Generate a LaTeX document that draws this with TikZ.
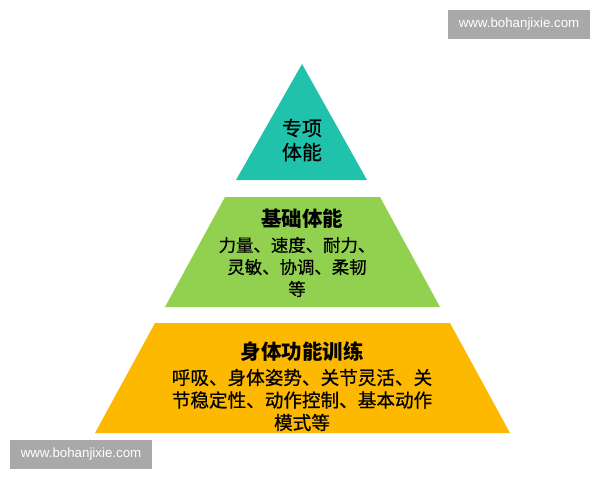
\documentclass[tikz,border=0pt]{standalone}
\usepackage{fontspec}
\setmainfont{Liberation Sans}
\newfontfamily\cjk[FakeBold=0.6]{Noto Sans CJK SC}
\newfontfamily\cjkb{Noto Sans CJK SC}
\definecolor{teal1}{HTML}{20C2AB}
\definecolor{green1}{HTML}{92D050}
\definecolor{yellow1}{HTML}{FCB900}
\definecolor{wm}{HTML}{A9A9A9}
\tikzset{
  lbl/.style={align=center,font=\cjk\fontsize{17.4}{22}\selectfont,text=black,inner sep=0pt},
  ttl/.style={font=\cjkb\bfseries\fontsize{20.5}{22}\selectfont,text=black,inner sep=0pt},
  wmark/.style={fill=wm,text=white,font=\fontsize{13.3}{15}\selectfont,minimum width=142pt,minimum height=29pt,inner sep=0pt}
}
\begin{document}
\begin{tikzpicture}[x=1pt,y=-1pt]
\useasboundingbox (0,0) rectangle (600,480);
\fill[white] (0,0) rectangle (600,480);
% levels
\fill[teal1] (302,64) -- (367,180) -- (236,180) -- cycle;
\fill[green1] (225,197) -- (380,197) -- (440,307) -- (165,307) -- cycle;
\fill[yellow1] (155,323) -- (450,323) -- (510,433) -- (95,433) -- cycle;
% texts
\node[lbl,font=\cjk\fontsize{20}{24}\selectfont] (top) at (302,140) {专项\\体能};
\node[ttl] (midt) at (302,219) {基础体能};
\node[lbl] (midb) at (297,267) {力量、速度、耐力、\\灵敏、协调、柔韧\\等};
\node[ttl] (bott) at (302,352) {身体功能训练};
\node[lbl,font=\cjk\fontsize{18.6}{22.5}\selectfont] (botb) at (302,400) {呼吸、身体姿势、关节灵活、关\\节稳定性、动作控制、基本动作\\模式等};
% watermarks
\node[wmark] (wm1) at (519,24.5) {www.bohanjixie.com};
\node[wmark] (wm2) at (81,454.5) {www.bohanjixie.com};
\end{tikzpicture}
\end{document}
